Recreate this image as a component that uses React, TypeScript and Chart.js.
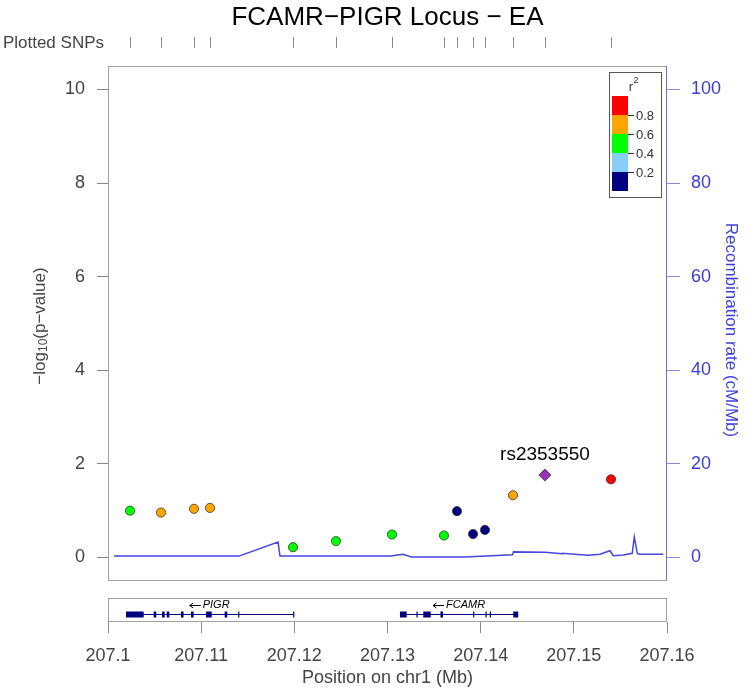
import React, { useEffect, useRef } from "react";
import { Chart, registerables } from "chart.js";

Chart.register(...registerables);

const FONT = "'Liberation Sans', Arial, Helvetica, sans-serif";

// ---------- data ----------
const TITLE = "FCAMR\u2212PIGR Locus \u2212 EA";
const X_TICKS = [207.1, 207.11, 207.12, 207.13, 207.14, 207.15, 207.16];
const Y_TICKS = [0, 2, 4, 6, 8, 10];
const RECOMB_TICKS = [0, 20, 40, 60, 80, 100];

const snpPos = [207.10236, 207.10569, 207.10923, 207.11095, 207.11986, 207.12447, 207.13048, 207.13606, 207.13746, 207.13918, 207.14046, 207.14347, 207.1469, 207.15399];
const snpLogP = [1.0, 0.96, 1.04, 1.06, 0.22, 0.35, 0.49, 0.47, 0.99, 0.5, 0.59, 1.33, 1.76, 1.67];
const snpR2 = [0.5, 0.7, 0.7, 0.7, 0.5, 0.5, 0.5, 0.5, 0.1, 0.1, 0.1, 0.7, 1.0, 0.9];
const LEAD_INDEX = 12;
const LEAD_NAME = "rs2353550";

const recombPos = [207.10064, 207.11406, 207.11825, 207.11846, 207.13037, 207.13163, 207.1326, 207.13832, 207.14342, 207.14352, 207.1469, 207.14876, 207.14882, 207.15147, 207.15281, 207.15388, 207.15424, 207.15531, 207.15627, 207.15649, 207.15681, 207.15702, 207.1596];
const recombRate = [0.3, 0.3, 3.3, 0.3, 0.3, 0.7, 0.1, 0.1, 0.6, 1.2, 1.1, 0.8, 0.9, 0.5, 0.7, 1.45, 0.4, 0.55, 0.9, 4.4, 0.9, 0.7, 0.7];

const geneNames = ["PIGR", "FCAMR"];
const geneStart = [207.10193, 207.13134];
const geneEnd = [207.11989, 207.14403];
const geneExonStarts = [
  [207.10193, 207.1049, 207.1058, 207.1063, 207.10783, 207.10891, 207.11052, 207.11252, 207.11397, 207.11987],
  [207.13134, 207.13311, 207.13384, 207.13568, 207.13919, 207.14052, 207.14098, 207.1435],
];
const geneExonEnds = [
  [207.10383, 207.10518, 207.10608, 207.10658, 207.10811, 207.10919, 207.11113, 207.1128, 207.11401, 207.11991],
  [207.13206, 207.13315, 207.13464, 207.13596, 207.13923, 207.14056, 207.14102, 207.14403],
];

const ldColors = ["#000080", "#87CEFA", "#00FF00", "#FFA500", "#FF0000"]; // 0-0.2 ... 0.8-1
const ldBreakLabels = ["0.2", "0.4", "0.6", "0.8"];
const LEAD_COLOR = "#9632B8";

function colorFor(r2: number) {
  const idx = Math.min(4, Math.floor(r2 / 0.2));
  return ldColors[idx];
}

// ---------- layout constants ----------
const Y_MIN = -1.378;
const Y_MAX = 10.5;
const PANEL_BOTTOM_VAL = -0.48;

const overlayPlugin = {
  id: "locusOverlay",
  afterDraw(chart: any) {
    const ctx = chart.ctx;
    const xs = chart.scales.x;
    const ys = chart.scales.y;
    const ca = chart.chartArea;
    const left = ca.left;
    const right = ca.right;
    const top = ca.top;
    const panelBottom = Math.round(ys.getPixelForValue(PANEL_BOTTOM_VAL));
    ctx.save();

    // Title
    ctx.fillStyle = "#000";
    ctx.font = `26px ${FONT}`;
    ctx.textAlign = "center";
    ctx.textBaseline = "middle";
    ctx.fillText(TITLE, (left + right) / 2, 18);

    // Plotted SNPs rug
    ctx.fillStyle = "#444";
    ctx.font = `17px ${FONT}`;
    ctx.textAlign = "right";
    ctx.fillText("Plotted SNPs", 104, 43);
    ctx.strokeStyle = "#888";
    ctx.lineWidth = 1;
    snpPos.forEach((p) => {
      const px = Math.round(xs.getPixelForValue(p)) + 0.5;
      ctx.beginPath();
      ctx.moveTo(px, 37);
      ctx.lineTo(px, 48);
      ctx.stroke();
    });

    // Main panel box
    ctx.strokeStyle = "#a0a0a0";
    ctx.lineWidth = 1;
    ctx.strokeRect(left + 0.5, top + 0.5, right - left - 1, panelBottom - top);
    // right (recombination) axis line
    ctx.strokeStyle = "rgba(90,90,225,0.7)";
    ctx.beginPath();
    ctx.moveTo(right - 0.5, top);
    ctx.lineTo(right - 0.5, panelBottom);
    ctx.stroke();

    // Gene track
    const gTop = 598;
    const gBottom = ca.bottom;
    ctx.strokeStyle = "#a0a0a0";
    ctx.strokeRect(left + 0.5, gTop + 0.5, right - left - 1, gBottom - gTop - 1);
    const gy = 614;
    geneNames.forEach((name, gi) => {
      const x0 = xs.getPixelForValue(geneStart[gi]);
      const x1 = xs.getPixelForValue(geneEnd[gi]);
      ctx.strokeStyle = "#000080";
      ctx.lineWidth = 1;
      ctx.beginPath();
      ctx.moveTo(x0, gy + 0.5);
      ctx.lineTo(x1, gy + 0.5);
      ctx.stroke();
      ctx.fillStyle = "#000080";
      geneExonStarts[gi].forEach((s, ei) => {
        const a = xs.getPixelForValue(s);
        const b = xs.getPixelForValue(geneExonEnds[gi][ei]);
        const w = Math.max(1.2, b - a);
        ctx.fillRect(a, gy - 2.5, w, 6);
      });
      // label with arrow
      ctx.fillStyle = "#000";
      ctx.font = `italic 11px ${FONT}`;
      const tw = ctx.measureText(name).width;
      const arrowW = 11;
      const cxg = (x0 + x1) / 2;
      const startX = cxg - (tw + arrowW + 2) / 2;
      ctx.textAlign = "left";
      ctx.textBaseline = "middle";
      ctx.fillText(name, startX + arrowW + 2, 605);
      ctx.strokeStyle = "#000";
      ctx.lineWidth = 1;
      ctx.beginPath();
      ctx.moveTo(startX, 605.5);
      ctx.lineTo(startX + arrowW, 605.5);
      ctx.moveTo(startX, 605.5);
      ctx.lineTo(startX + 3.5, 603);
      ctx.moveTo(startX, 605.5);
      ctx.lineTo(startX + 3.5, 608);
      ctx.stroke();
    });

    // Lead SNP label
    const lx = xs.getPixelForValue(snpPos[LEAD_INDEX]);
    const ly = ys.getPixelForValue(snpLogP[LEAD_INDEX]);
    ctx.fillStyle = "#000";
    ctx.font = `19px ${FONT}`;
    ctx.textAlign = "center";
    ctx.textBaseline = "middle";
    ctx.fillText(LEAD_NAME, lx, ly - 20);

    // Y axis title with subscript
    ctx.save();
    ctx.translate(40, 326);
    ctx.rotate(-Math.PI / 2);
    ctx.fillStyle = "#444";
    const big = `17px ${FONT}`;
    const small = `12px ${FONT}`;
    const parts = [
      { t: "\u2212log", f: big, dy: 0 },
      { t: "10", f: small, dy: 4 },
      { t: "(p\u2212value)", f: big, dy: 0 },
    ];
    let total = 0;
    parts.forEach((p) => {
      ctx.font = p.f;
      total += ctx.measureText(p.t).width;
    });
    let cx = -total / 2;
    ctx.textAlign = "left";
    ctx.textBaseline = "middle";
    parts.forEach((p) => {
      ctx.font = p.f;
      ctx.fillText(p.t, cx, p.dy);
      cx += ctx.measureText(p.t).width;
    });
    ctx.restore();

    // Right axis title
    ctx.save();
    ctx.translate(731, 330);
    ctx.rotate(Math.PI / 2);
    ctx.fillStyle = "#3c3cdc";
    ctx.font = `17px ${FONT}`;
    ctx.textAlign = "center";
    ctx.textBaseline = "middle";
    ctx.fillText("Recombination rate (cM/Mb)", 0, 0);
    ctx.restore();

    // X axis title
    ctx.fillStyle = "#444";
    ctx.font = `18px ${FONT}`;
    ctx.textAlign = "center";
    ctx.textBaseline = "middle";
    ctx.fillText("Position on chr1 (Mb)", (left + right) / 2, 678);

    // LD legend
    const bx = 609, by = 72, bw = 52, bh = 125;
    ctx.fillStyle = "#fff";
    ctx.fillRect(bx, by, bw, bh);
    ctx.strokeStyle = "#555";
    ctx.lineWidth = 1;
    ctx.strokeRect(bx + 0.5, by + 0.5, bw, bh);
    ctx.fillStyle = "#333";
    ctx.font = `13px ${FONT}`;
    ctx.textAlign = "center";
    ctx.textBaseline = "middle";
    ctx.fillText("r", 631, 87);
    ctx.font = `9px ${FONT}`;
    ctx.fillText("2", 636, 81);
    const cellH = 19;
    const cTop = 96;
    for (let i = 0; i < 5; i++) {
      ctx.fillStyle = ldColors[4 - i];
      ctx.fillRect(612, cTop + i * cellH, 16, cellH);
    }
    ctx.strokeStyle = "#333";
    ctx.fillStyle = "#333";
    ctx.font = `13px ${FONT}`;
    ctx.textAlign = "left";
    for (let i = 0; i < 4; i++) {
      const yy = cTop + (i + 1) * cellH;
      ctx.beginPath();
      ctx.moveTo(628, yy + 0.5);
      ctx.lineTo(634, yy + 0.5);
      ctx.stroke();
      ctx.fillText(ldBreakLabels[3 - i], 636, yy + 1);
    }

    ctx.restore();
  },
};

export default function App() {
  const ref = useRef<HTMLCanvasElement>(null);
  useEffect(() => {
    const canvas = ref.current;
    if (!canvas) return;
    const pointColors = snpR2.map((r, i) => (i === LEAD_INDEX ? LEAD_COLOR : colorFor(r)));
    const pointStyles = snpR2.map((_, i) => (i === LEAD_INDEX ? "rectRot" : "circle"));
    const pointRadii = snpR2.map((_, i) => (i === LEAD_INDEX ? 6 : 4.6));

    const chart = new Chart(canvas, {
      type: "scatter",
      data: {
        datasets: [
          {
            type: "scatter",
            label: "SNPs",
            data: snpPos.map((x, i) => ({ x, y: snpLogP[i] })),
            yAxisID: "y",
            pointBackgroundColor: pointColors,
            pointBorderColor: "rgba(40,40,40,0.9)",
            pointBorderWidth: 0.8,
            pointRadius: pointRadii,
            pointStyle: pointStyles as any,
            order: 0,
          },
          {
            type: "line",
            label: "Recombination",
            data: recombPos.map((x, i) => ({ x, y: recombRate[i] })),
            yAxisID: "y2",
            borderColor: "#4646e0",
            borderWidth: 1.5,
            pointRadius: 0,
            fill: false,
            tension: 0,
            order: 1,
          } as any,
        ],
      },
      options: {
        animation: false,
        responsive: false,
        maintainAspectRatio: false,
        layout: { padding: { top: 66, left: 0, right: 0, bottom: 0 } },
        plugins: {
          legend: { display: false },
          tooltip: { enabled: false },
          title: { display: false },
        },
        scales: {
          x: {
            type: "linear",
            position: "bottom",
            min: 207.1,
            max: 207.16,
            afterBuildTicks: (s: any) => {
              s.ticks = X_TICKS.map((v) => ({ value: v }));
            },
            afterFit: (s: any) => {
              s.height = 67;
            },
            ticks: {
              autoSkip: false,
              maxRotation: 0,
              padding: 12,
              color: "#444",
              font: { family: FONT, size: 18 },
              callback: (v: any) => String(Number(Number(v).toFixed(2))),
            },
            grid: { drawOnChartArea: false, drawTicks: true, tickLength: 11, color: "#888" },
            border: { display: false },
          },
          y: {
            type: "linear",
            position: "left",
            min: Y_MIN,
            max: Y_MAX,
            afterBuildTicks: (s: any) => {
              s.ticks = Y_TICKS.map((v) => ({ value: v }));
            },
            afterFit: (s: any) => {
              s.width = 108;
            },
            ticks: {
              padding: 12,
              color: "#444",
              font: { family: FONT, size: 18 },
            },
            grid: { drawOnChartArea: false, drawTicks: true, tickLength: 11, color: "#888" },
            border: { display: false },
          },
          y2: {
            type: "linear",
            position: "right",
            min: Y_MIN * 10,
            max: Y_MAX * 10,
            afterBuildTicks: (s: any) => {
              s.ticks = RECOMB_TICKS.map((v) => ({ value: v }));
            },
            afterFit: (s: any) => {
              s.width = 78;
            },
            ticks: {
              padding: 11,
              color: "#3c3cdc",
              font: { family: FONT, size: 18 },
            },
            grid: { drawOnChartArea: false, drawTicks: true, tickLength: 13, color: "rgba(90,90,225,0.7)" },
            border: { display: false },
          },
        },
      },
      plugins: [overlayPlugin],
    });
    return () => chart.destroy();
  }, []);

  return (
    <div style={{ position: "fixed", left: 0, top: 0, width: 745, height: 689, background: "#fff" }}>
      <canvas ref={ref} width={745} height={689} style={{ display: "block" }} />
    </div>
  );
}
